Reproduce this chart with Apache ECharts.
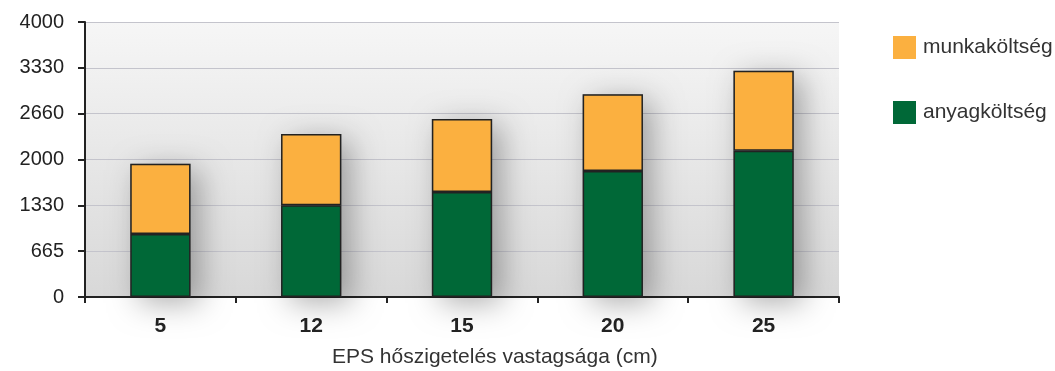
<!DOCTYPE html>
<html>
<head>
<meta charset="utf-8">
<script src="https://cdn.jsdelivr.net/npm/echarts@6/dist/echarts.min.js"></script>
<style>html,body{margin:0;padding:0;background:#fff}#c{width:1055px;height:371px}</style>
</head>
<body>
<div id="c"></div>
<script>
const categories = ['5', '12', '15', '20', '25'];
const anyagkoltseg = [915, 1335, 1526, 1832, 2128];
const munkakoltseg = [1025, 1035, 1064, 1118, 1162];
const yTickLabels = ['0', '665', '1330', '2000', '2660', '3330', '4000'];
const xAxisTitle = 'EPS hőszigetelés vastagsága (cm)';

const totals = anyagkoltseg.map((v, i) => v + munkakoltseg[i]);
const chart = echarts.init(document.getElementById('c'));
const font = 'Liberation Sans, Arial, sans-serif';
chart.setOption({
  animation: false,
  grid: {
    left: 85, right: 216, top: 22, bottom: 74,
    show: true, borderWidth: 0,
    backgroundColor: {
      type: 'linear', x: 0, y: 0, x2: 0, y2: 1,
      colorStops: [{offset: 0, color: '#f6f6f6'}, {offset: 1, color: '#d8d8d8'}]
    }
  },
  legend: {
    orient: 'vertical', left: 888, top: 31,
    icon: 'rect',
    itemWidth: 23, itemHeight: 23, itemGap: 42,
    data: ['munkaköltség', 'anyagköltség'],
    itemStyle: {borderWidth: 0},
    textStyle: {fontFamily: font, fontSize: 21, color: '#333', padding: [0, 0, 0, 2]},
    selectedMode: false
  },
  xAxis: {
    type: 'category', data: categories,
    axisLine: {lineStyle: {color: '#222', width: 2}},
    axisTick: {show: true, length: 6, lineStyle: {color: '#222', width: 2}},
    axisLabel: {fontFamily: font, fontSize: 21, fontWeight: 'bold', color: '#222', margin: 19}
  },
  yAxis: {
    type: 'value', min: 0, max: 4000, interval: 4000 / 6,
    axisLine: {show: true, lineStyle: {color: '#222', width: 2}},
    axisTick: {show: true, inside: false, length: 7, lineStyle: {color: '#222', width: 2}},
    splitLine: {lineStyle: {color: '#c4c4cc', width: 1}},
    axisLabel: {
      fontFamily: font, fontSize: 20, color: '#222', margin: 21,
      formatter: (v) => yTickLabels[Math.round(v / (4000 / 6))]
    }
  },
  graphic: [{
    type: 'text', left: 332, top: 347,
    style: {text: xAxisTitle, font: '21px ' + font, fill: '#333'}
  }],
  series: [
    {
      name: 'shadow', type: 'bar', data: totals, barWidth: '40%', barGap: '-100%', z: 1,
      silent: true,
      itemStyle: {color: 'rgba(110,110,110,0.45)', shadowBlur: 30, shadowColor: 'rgba(0,0,0,0.7)', shadowOffsetX: 9, shadowOffsetY: 6}
    },
    {
      name: 'anyagköltség', type: 'bar', stack: 'a', data: anyagkoltseg, barWidth: '40%', z: 3,
      itemStyle: {color: '#006837', borderColor: '#222', borderWidth: 1.5}
    },
    {
      name: 'munkaköltség', type: 'bar', stack: 'a', data: munkakoltseg, barWidth: '40%', z: 3,
      itemStyle: {color: '#fbb040', borderColor: '#222', borderWidth: 1.5}
    }
  ]
});
</script>
</body>
</html>
